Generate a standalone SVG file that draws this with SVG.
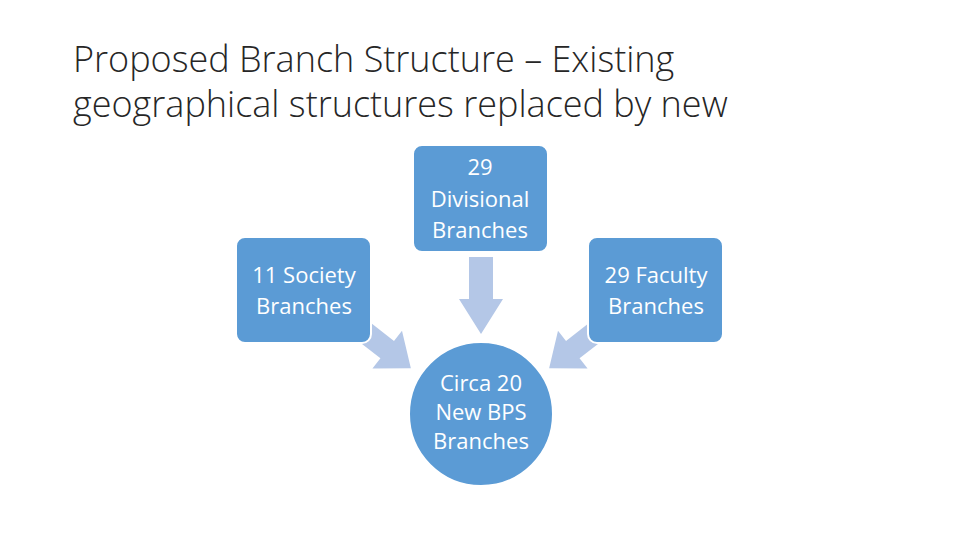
<svg xmlns="http://www.w3.org/2000/svg" width="960" height="540" viewBox="0 0 960 540">
<style>
.t{font-family:"Open Sans","Liberation Sans",sans-serif;font-weight:300;font-size:36px;fill:#262626}
.n{fill:#5B9BD5;stroke:#fff;stroke-width:2}
.l{font-family:"Open Sans","Liberation Sans",sans-serif;font-size:22px;fill:#fff;text-anchor:middle}
.a{fill:#B4C7E7}
</style>
<rect width="960" height="540" fill="#fff"/>
<text class="t" x="73" y="72">Proposed Branch Structure – Existing</text>
<text class="t" x="73" y="117">geographical structures replaced by new</text>
<g id="connectors">
<polygon class="a" points="469,257 493,257 493,299 503,299 481,334 459,299 469,299"/>
<polygon class="a" transform="translate(362,330) rotate(38)" points="0,-11 32,-11 32,-24 62,0 32,24 32,11 0,11"/>
<polygon class="a" transform="translate(598,330) rotate(142)" points="0,-11 32,-11 32,-24 62,0 32,24 32,11 0,11"/>
</g>
<g id="top"><rect class="n" x="413" y="145" width="135" height="107" rx="9"/>
<text class="l" x="480" y="175">29</text><text class="l" x="480" y="207">Divisional</text><text class="l" x="480" y="238">Branches</text></g>
<g id="left"><rect class="n" x="236" y="237" width="135" height="106" rx="9"/>
<text class="l" x="304" y="283">11 Society</text><text class="l" x="304" y="314">Branches</text></g>
<g id="right"><rect class="n" x="588" y="237" width="135" height="106" rx="9"/>
<text class="l" x="656" y="283">29 Faculty</text><text class="l" x="656" y="314">Branches</text></g>
<g id="center"><circle class="n" cx="481" cy="414" r="72"/>
<text class="l" x="481" y="391">Circa 20</text><text class="l" x="481" y="420">New BPS</text><text class="l" x="481" y="449">Branches</text></g>
</svg>
